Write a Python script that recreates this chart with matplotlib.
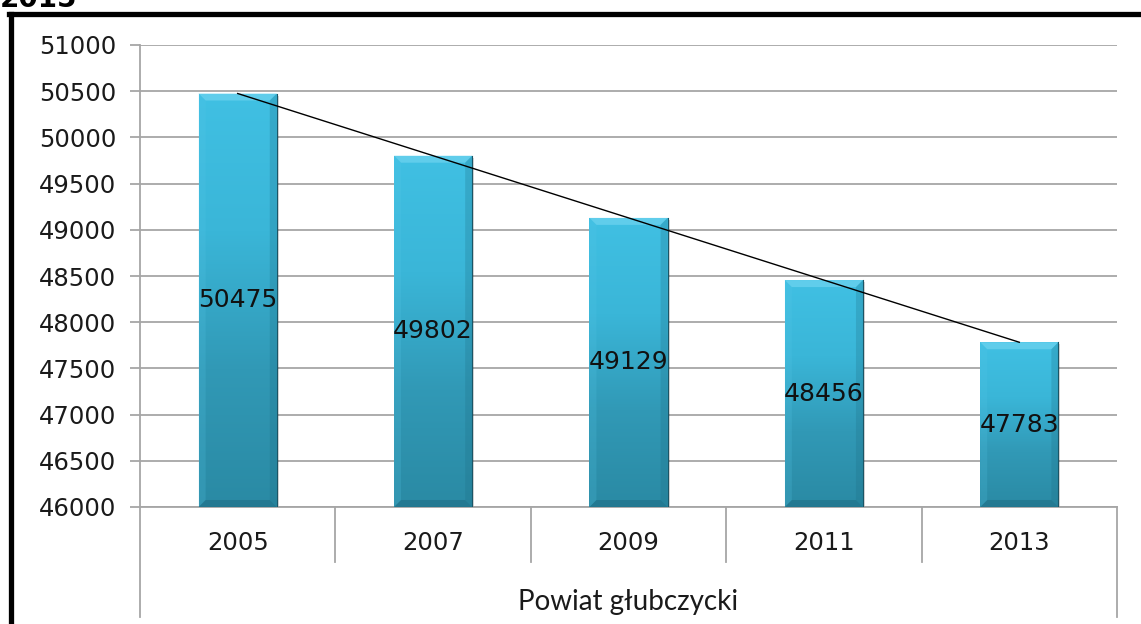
import matplotlib.pyplot as plt
import numpy as np
from matplotlib.patches import Rectangle, Polygon
from matplotlib.colors import LinearSegmentedColormap
import matplotlib.transforms as mtransforms

years = ['2005', '2007', '2009', '2011', '2013']
values = [50475, 49802, 49129, 48456, 47783]
group_label = 'Powiat głubczycki'
ymin, ymax, ystep = 46000, 51000, 500

W, H = 1141, 624
fig = plt.figure(figsize=(W / 100, H / 100), dpi=100)
ax = fig.add_axes([140 / W, 1 - 507 / H, 977 / W, 462 / H])

ax.set_xlim(-0.5, len(years) - 0.5)
ax.set_ylim(ymin, ymax)

# grid + spines
ax.set_yticks(np.arange(ymin, ymax + 1, ystep))
ax.set_yticklabels([str(v) for v in np.arange(ymin, ymax + 1, ystep)])
ax.yaxis.grid(True, color='#a6a6a6', linewidth=1.3)
ax.set_axisbelow(True)
for s in ['top', 'right', 'bottom']:
    ax.spines[s].set_visible(False)
ax.spines['left'].set_color('#a6a6a6')
ax.spines['left'].set_linewidth(1.3)
ax.tick_params(axis='y', length=7, width=1.3, color='#a6a6a6',
               labelsize=17.5, labelcolor='#1a1a1a', pad=10)
ax.set_xticks([])

# bar pixel -> data scale
px_x = (len(years)) / 977.0
px_y = (ymax - ymin) / 462.0
bw = 0.4
bev_x, bev_y = 7 * px_x, 7 * px_y

cmap = LinearSegmentedColormap.from_list('bar', ['#2a8aa4', '#3199b6', '#3ab6d8', '#40c0e3'])
grad = np.linspace(0, 1, 256).reshape(-1, 1)

for i, v in enumerate(values):
    x0, x1 = i - bw / 2, i + bw / 2
    # shadow
    ax.add_patch(Rectangle((x0 + 2 * px_x, ymin), bw, v - ymin - 2 * px_y,
                           facecolor='#000000', alpha=0.15, edgecolor='none', zorder=2))
    im = ax.imshow(grad, extent=[x0, x1, ymin, v], origin='lower', cmap=cmap,
                   aspect='auto', zorder=3, interpolation='bicubic')
    rect = Rectangle((x0, ymin), bw, v - ymin, facecolor='none', edgecolor='none')
    ax.add_patch(rect)
    im.set_clip_path(rect)
    # bevels
    ax.add_patch(Polygon([(x0, v), (x1, v), (x1 - bev_x, v - bev_y), (x0 + bev_x, v - bev_y)],
                         facecolor='#6fd3ef', edgecolor='none', alpha=0.7, zorder=4))
    ax.add_patch(Polygon([(x0, ymin), (x1, ymin), (x1 - bev_x, ymin + bev_y), (x0 + bev_x, ymin + bev_y)],
                         facecolor='#1f6f86', edgecolor='none', alpha=0.6, zorder=4))
    ax.add_patch(Polygon([(x1, v), (x1, ymin), (x1 - bev_x, ymin + bev_y), (x1 - bev_x, v - bev_y)],
                         facecolor='#1d6d84', edgecolor='none', alpha=0.25, zorder=4))
    ax.add_patch(Polygon([(x0, v), (x0, ymin), (x0 + bev_x, ymin + bev_y), (x0 + bev_x, v - bev_y)],
                         facecolor='#58c8e8', edgecolor='none', alpha=0.2, zorder=4))
    ax.plot([x1, x1, x0], [v, ymin, ymin], color='#1b5566', linewidth=0.8, zorder=4)
    ax.text(i, (ymin + v) / 2, str(v), ha='center', va='center', fontsize=18,
            color='#111111', zorder=6)

# linear trend line
xs = np.arange(len(values))
k, b = np.polyfit(xs, values, 1)
ax.plot([xs[0], xs[-1]], [k * xs[0] + b, k * xs[-1] + b], color='black', linewidth=1.0, zorder=5)

# category axis below
trans = mtransforms.blended_transform_factory(ax.transData, ax.transAxes)
for j in range(len(years) + 1):
    xb = j - 0.5
    bottom = -0.238 if j in (0, len(years)) else -0.119
    ax.plot([xb, xb], [0, bottom], transform=trans, color='#a6a6a6', linewidth=1.3, clip_on=False)
ax.plot([-0.5, len(years) - 0.5], [0, 0], transform=trans, color='#a6a6a6', linewidth=1.3, clip_on=False)
for i, y in enumerate(years):
    ax.text(i, -0.078, y, transform=trans, ha='center', va='center', fontsize=17.5, color='#1a1a1a')
ax.text((len(years) - 1) / 2, -0.205, group_label, transform=trans, ha='center', va='center',
        fontsize=20, color='#1a1a1a', family='Lato')

# outer frame (top and left) and cropped title
fig.add_artist(plt.Line2D([10.5 / W, 10.5 / W], [0, 1 - 13.5 / H], color='black', linewidth=3.8))
fig.add_artist(plt.Line2D([8.5 / W, 1], [1 - 13.5 / H, 1 - 13.5 / H], color='black', linewidth=3.8))
fig.text(0, 1 - 7 / H, '2015', fontsize=20, fontweight='bold', ha='left', va='baseline')

fig.savefig('out.png', dpi=100)
